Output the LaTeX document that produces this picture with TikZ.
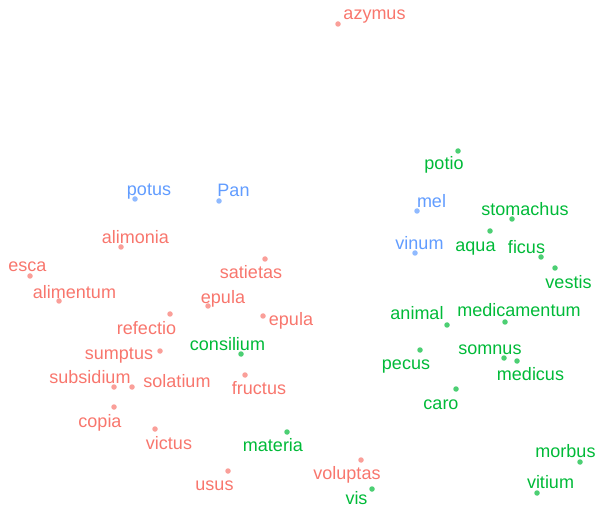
\documentclass[tikz,border=0pt]{standalone}
\usepackage{fontspec}
\setsansfont{Liberation Sans}
\usepackage{xcolor}
\usepackage{tikz}
\definecolor{redgrp}{HTML}{F8766D}
\definecolor{greengrp}{HTML}{00BA38}
\definecolor{bluegrp}{HTML}{619CFF}

\begin{document}
\begin{tikzpicture}[x=1pt, y=-1pt,
    dot/.style={circle, inner sep=0pt, minimum size=5.5pt, fill opacity=0.7},
    word/.style={anchor=mid, inner sep=0pt, yshift=-4pt, font=\sffamily\fontsize{18}{18}\selectfont},
    red/.style={fill=redgrp, text=redgrp},
    green/.style={fill=greengrp, text=greengrp},
    blue/.style={fill=bluegrp, text=bluegrp}]

    \useasboundingbox (0,0) rectangle (598,508);

    % red group
    \node[dot, red] (p-azymus) at (338,24) {};
    \node[word, text=redgrp] (azymus) at (374.5,13) {azymus};
    \node[dot, red] (p-alimonia) at (121,247) {};
    \node[word, text=redgrp] (alimonia) at (135.5,237) {alimonia};
    \node[dot, red] (p-esca) at (30,276) {};
    \node[word, text=redgrp] (esca) at (27.5,265) {esca};
    \node[dot, red] (p-alimentum) at (59,301) {};
    \node[word, text=redgrp] (alimentum) at (74.5,292) {alimentum};
    \node[dot, red] (p-satietas) at (265,259) {};
    \node[word, text=redgrp] (satietas) at (251,272) {satietas};
    \node[dot, red] (p-epulaA) at (208,306) {};
    \node[word, text=redgrp] (epulaA) at (223,297) {epula};
    \node[dot, red] (p-epulaB) at (263,316) {};
    \node[word, text=redgrp] (epulaB) at (291,319) {epula};
    \node[dot, red] (p-refectio) at (170,314) {};
    \node[word, text=redgrp] (refectio) at (146.5,328) {refectio};
    \node[dot, red] (p-sumptus) at (160,351) {};
    \node[word, text=redgrp] (sumptus) at (119,353) {sumptus};
    \node[dot, red] (p-subsidium) at (114,387) {};
    \node[word, text=redgrp] (subsidium) at (90,377) {subsidium};
    \node[dot, red] (p-solatium) at (132,387) {};
    \node[word, text=redgrp] (solatium) at (177,381) {solatium};
    \node[dot, red] (p-fructus) at (245,375) {};
    \node[word, text=redgrp] (fructus) at (259,388) {fructus};
    \node[dot, red] (p-copia) at (114,407) {};
    \node[word, text=redgrp] (copia) at (100,421) {copia};
    \node[dot, red] (p-victus) at (155,429) {};
    \node[word, text=redgrp] (victus) at (169,443) {victus};
    \node[dot, red] (p-usus) at (228,471) {};
    \node[word, text=redgrp] (usus) at (214.5,484) {usus};
    \node[dot, red] (p-voluptas) at (361,460) {};
    \node[word, text=redgrp] (voluptas) at (347,473) {voluptas};

    % blue group
    \node[dot, blue] (p-potus) at (135,199) {};
    \node[word, text=bluegrp] (potus) at (149,189) {potus};
    \node[dot, blue] (p-Pan) at (219,201) {};
    \node[word, text=bluegrp] (Pan) at (233.5,190) {Pan};
    \node[dot, blue] (p-mel) at (417,211) {};
    \node[word, text=bluegrp] (mel) at (431.5,201) {mel};
    \node[dot, blue] (p-vinum) at (415,253) {};
    \node[word, text=bluegrp] (vinum) at (419.5,243) {vinum};

    % green group
    \node[dot, green] (p-consilium) at (241,354) {};
    \node[word, text=greengrp] (consilium) at (227.5,344) {consilium};
    \node[dot, green] (p-materia) at (287,432) {};
    \node[word, text=greengrp] (materia) at (273,445) {materia};
    \node[dot, green] (p-vis) at (372,489) {};
    \node[word, text=greengrp] (vis) at (356.5,498.5) {vis};
    \node[dot, green] (p-potio) at (458,151) {};
    \node[word, text=greengrp] (potio) at (444,163) {potio};
    \node[dot, green] (p-stomachus) at (512,219) {};
    \node[word, text=greengrp] (stomachus) at (525,209) {stomachus};
    \node[dot, green] (p-aqua) at (490,231) {};
    \node[word, text=greengrp] (aqua) at (475.5,245) {aqua};
    \node[dot, green] (p-ficus) at (541,257) {};
    \node[word, text=greengrp] (ficus) at (526.5,247) {ficus};
    \node[dot, green] (p-vestis) at (555,268) {};
    \node[word, text=greengrp] (vestis) at (568.5,282) {vestis};
    \node[dot, green] (p-animal) at (447,325) {};
    \node[word, text=greengrp] (animal) at (417,313) {animal};
    \node[dot, green] (p-medicamentum) at (505,322) {};
    \node[word, text=greengrp] (medicamentum) at (519,310) {medicamentum};
    \node[dot, green] (p-pecus) at (420,350) {};
    \node[word, text=greengrp] (pecus) at (406,363) {pecus};
    \node[dot, green] (p-somnus) at (504,358) {};
    \node[word, text=greengrp] (somnus) at (490,348) {somnus};
    \node[dot, green] (p-medicus) at (517,361) {};
    \node[word, text=greengrp] (medicus) at (530.5,374) {medicus};
    \node[dot, green] (p-caro) at (456,389) {};
    \node[word, text=greengrp] (caro) at (441,403) {caro};
    \node[dot, green] (p-morbus) at (580,462) {};
    \node[word, text=greengrp] (morbus) at (565.5,451) {morbus};
    \node[dot, green] (p-vitium) at (537,493) {};
    \node[word, text=greengrp] (vitium) at (550.5,482) {vitium};
\end{tikzpicture}
\end{document}
